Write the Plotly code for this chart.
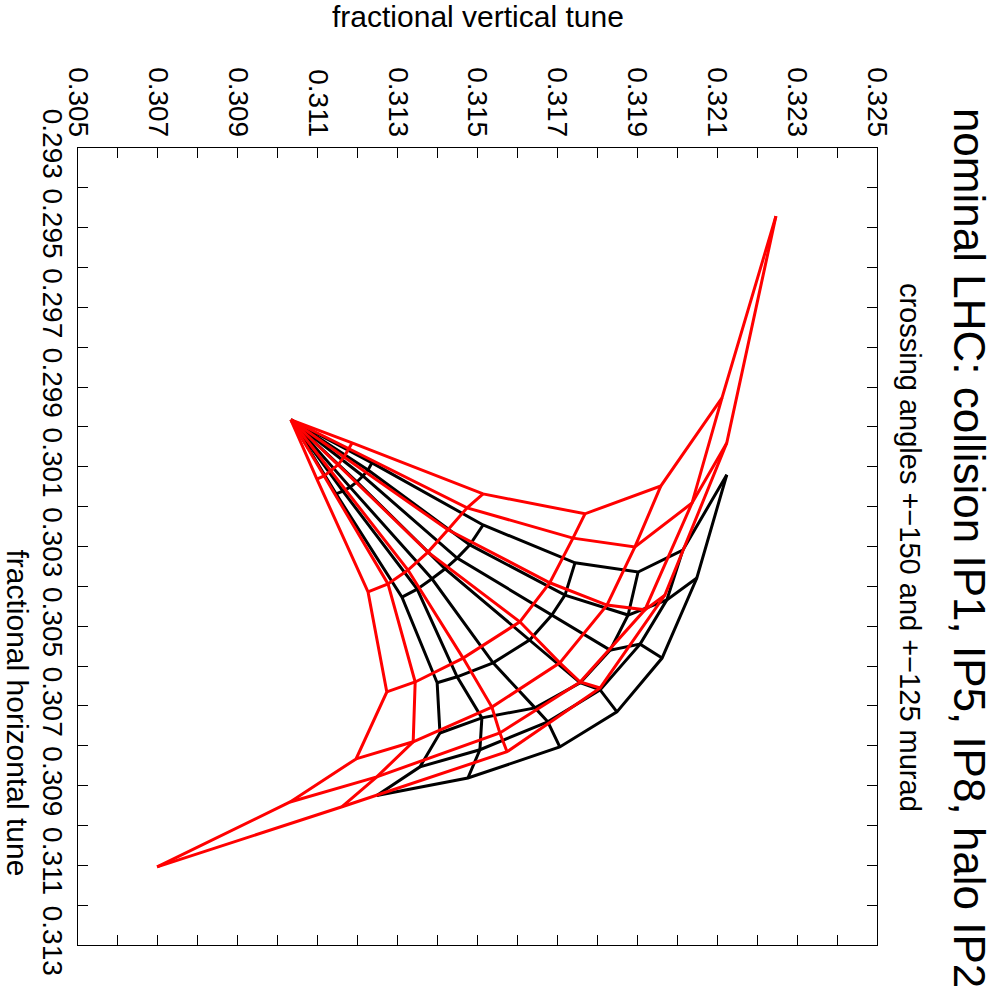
import plotly.graph_objects as go

# Axis ticks
qv_ticks = [0.305, 0.307, 0.309, 0.311, 0.313, 0.315, 0.317, 0.319, 0.321, 0.323, 0.325]
qh_ticks = [0.293, 0.295, 0.297, 0.299, 0.301, 0.303, 0.305, 0.307, 0.309, 0.311, 0.313]

# zero-amplitude tune (common start of all radial lines)
center_qv = 0.31033
center_qh = 0.29982

# red footprint: 6 amplitude rings x 7 angles (vertical tune / horizontal tune)
red_qv = [
    [0.31186, 0.31178, 0.31166, 0.31151, 0.31133, 0.31116, 0.31098],
    [0.31514, 0.31474, 0.31426, 0.31376, 0.31326, 0.31276, 0.31226],
    [0.31769, 0.31739, 0.31681, 0.31606, 0.31464, 0.31344, 0.31273],
    [0.31959, 0.31894, 0.31824, 0.31706, 0.31536, 0.31339, 0.31196],
    [0.32112, 0.32037, 0.31919, 0.31757, 0.31556, 0.31248, 0.31031],
    [0.32247, 0.32124, 0.31969, 0.31807, 0.31574, 0.31161, 0.30698],
]
red_qh = [
    [0.30040, 0.30055, 0.30075, 0.30095, 0.30110, 0.30123, 0.30131],
    [0.30168, 0.30203, 0.30258, 0.30314, 0.30359, 0.30394, 0.30414],
    [0.30218, 0.30279, 0.30391, 0.30489, 0.30580, 0.30640, 0.30665],
    [0.30148, 0.30301, 0.30447, 0.30592, 0.30703, 0.30790, 0.30833],
    [0.29927, 0.30191, 0.30459, 0.30640, 0.30768, 0.30878, 0.30941],
    [0.29471, 0.30040, 0.30422, 0.30655, 0.30815, 0.30953, 0.31104],
]

# black footprint
black_qv = [
    [0.31236, 0.31226, 0.31213, 0.31198, 0.31181, 0.31163, 0.31146],
    [0.31514, 0.31481, 0.31449, 0.31419, 0.31386, 0.31349, 0.31311],
    [0.31744, 0.31719, 0.31686, 0.31631, 0.31539, 0.31449, 0.31399],
    [0.31902, 0.31877, 0.31832, 0.31757, 0.31644, 0.31511, 0.31406],
    [0.32014, 0.31974, 0.31907, 0.31807, 0.31676, 0.31506, 0.31356],
    [0.32124, 0.32049, 0.31962, 0.31849, 0.31706, 0.31476, 0.31248],
]
black_qh = [
    [0.30090, 0.30108, 0.30123, 0.30138, 0.30151, 0.30161, 0.30168],
    [0.30246, 0.30296, 0.30329, 0.30356, 0.30381, 0.30407, 0.30427],
    [0.30341, 0.30422, 0.30472, 0.30534, 0.30592, 0.30627, 0.30642],
    [0.30364, 0.30472, 0.30560, 0.30642, 0.30705, 0.30730, 0.30768],
    [0.30309, 0.30434, 0.30545, 0.30660, 0.30740, 0.30810, 0.30853],
    [0.30120, 0.30379, 0.30580, 0.30715, 0.30803, 0.30881, 0.30925],
]


def mesh(qv, qh):
    xs, ys = [], []
    n_amp, n_ang = len(qv), len(qv[0])
    for j in range(n_ang):  # radial lines
        xs += [center_qv] + [qv[i][j] for i in range(n_amp)] + [None]
        ys += [center_qh] + [qh[i][j] for i in range(n_amp)] + [None]
    for i in range(n_amp):  # rings
        xs += list(qv[i]) + [None]
        ys += list(qh[i]) + [None]
    return xs, ys


fig = go.Figure()
for qv, qh, col in [(black_qv, black_qh, "#000000"), (red_qv, red_qh, "#ff0000")]:
    xs, ys = mesh(qv, qh)
    fig.add_trace(go.Scatter(x=xs, y=ys, mode="lines", line=dict(color=col, width=3),
                             showlegend=False, hoverinfo="skip", connectgaps=False))

font = "Liberation Sans, Arial, sans-serif"
axis_common = dict(tickangle=90, ticks="inside", ticklen=10, tickcolor="black", showline=True,
                   linecolor="black", linewidth=1, mirror="ticks", showgrid=False, zeroline=False,
                   tickfont=dict(size=28, family=font, color="black"),
                   minor=dict(dtick=0.001, ticks="inside", ticklen=10, tickcolor="black", showgrid=False))
fig.update_layout(
    width=996, height=988,
    margin=dict(l=78, r=119, t=148, b=43),
    plot_bgcolor="white", paper_bgcolor="white",
    font=dict(family=font, color="black"),
    xaxis=dict(range=[0.305, 0.325], side="top", tickvals=qv_ticks,
               ticktext=[f"{v:.3f}" for v in qv_ticks], **axis_common),
    yaxis=dict(range=[0.313, 0.293], tickvals=qh_ticks,
               ticktext=[f"{v:.3f}" for v in qh_ticks], **axis_common),
)
ann = [
    dict(text="nominal LHC: collision IP1, IP5, IP8, halo IP2", x=1.1152, y=0.4982, size=44),
    dict(text="crossing angles +\u2212150 and +\u2212125 murad", x=1.0413, y=0.4982, size=29),
    dict(text="fractional horizontal tune", x=-0.0763, y=0.2917, size=30),
]
for a in ann:
    fig.add_annotation(text=a["text"], x=a["x"], y=a["y"], xref="paper", yref="paper", showarrow=False,
                       xanchor="center", yanchor="middle", textangle=90,
                       font=dict(size=a["size"], family=font, color="black"))
fig.add_annotation(text="fractional vertical tune", x=0.5006, y=1.1644, xref="paper", yref="paper",
                   xanchor="center", yanchor="middle", showarrow=False,
                   font=dict(size=30, family=font, color="black"))
fig.write_html("out.html")
